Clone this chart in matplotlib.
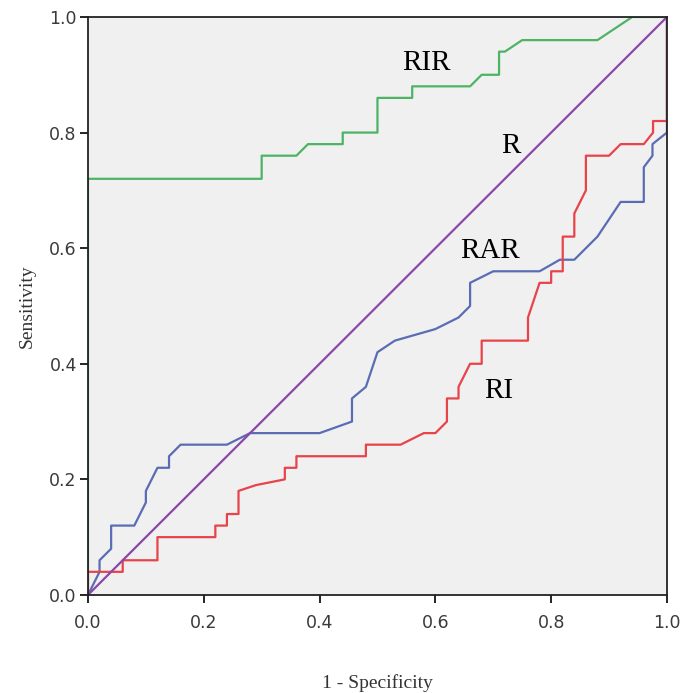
import matplotlib.pyplot as plt

# ROC curve points (1 - specificity, sensitivity)
rir_x = [0.0, 0.0, 0.30, 0.30, 0.36, 0.38, 0.44, 0.44, 0.50, 0.50, 0.56, 0.56,
         0.66, 0.68, 0.71, 0.71, 0.72, 0.75, 0.88, 0.91, 0.94, 1.0]
rir_y = [0.0, 0.72, 0.72, 0.76, 0.76, 0.78, 0.78, 0.80, 0.80, 0.86, 0.86, 0.88,
         0.88, 0.90, 0.90, 0.94, 0.94, 0.96, 0.96, 0.98, 1.0, 1.0]

rar_x = [0.0, 0.02, 0.02, 0.04, 0.04, 0.08, 0.10, 0.10, 0.11, 0.12, 0.14, 0.14,
         0.16, 0.24, 0.28, 0.40, 0.456, 0.456, 0.48, 0.50, 0.53, 0.60, 0.64,
         0.66, 0.66, 0.70, 0.78, 0.815, 0.84, 0.88, 0.92, 0.96, 0.96, 0.975,
         0.975, 1.0, 1.0]
rar_y = [0.0, 0.04, 0.06, 0.08, 0.12, 0.12, 0.16, 0.18, 0.20, 0.22, 0.22, 0.24,
         0.26, 0.26, 0.28, 0.28, 0.30, 0.34, 0.36, 0.42, 0.44, 0.46, 0.48,
         0.50, 0.54, 0.56, 0.56, 0.58, 0.58, 0.62, 0.68, 0.68, 0.74, 0.76,
         0.78, 0.80, 1.0]

ri_x = [0.0, 0.0, 0.06, 0.06, 0.12, 0.12, 0.22, 0.22, 0.24, 0.24, 0.26, 0.26,
        0.29, 0.34, 0.34, 0.36, 0.36, 0.48, 0.48, 0.54, 0.58, 0.60, 0.62,
        0.62, 0.64, 0.64, 0.66, 0.68, 0.68, 0.76, 0.76, 0.78, 0.80, 0.80,
        0.82, 0.82, 0.84, 0.84, 0.86, 0.86, 0.90, 0.92, 0.96, 0.976, 0.976,
        1.0, 1.0]
ri_y = [0.0, 0.04, 0.04, 0.06, 0.06, 0.10, 0.10, 0.12, 0.12, 0.14, 0.14, 0.18,
        0.19, 0.20, 0.22, 0.22, 0.24, 0.24, 0.26, 0.26, 0.28, 0.28, 0.30,
        0.34, 0.34, 0.36, 0.40, 0.40, 0.44, 0.44, 0.48, 0.54, 0.54, 0.56,
        0.56, 0.62, 0.62, 0.66, 0.70, 0.76, 0.76, 0.78, 0.78, 0.80, 0.82,
        0.82, 1.0]

ref_x = [0.0, 1.0]
ref_y = [0.0, 1.0]

labels = ["RIR", "R", "RAR", "RI"]
label_pos = [(0.585, 0.92), (0.73, 0.776), (0.695, 0.595), (0.71, 0.352)]

fig = plt.figure(figsize=(6.83, 6.93), dpi=100)
ax = fig.add_axes([0.1288, 0.1415, 0.8477, 0.834])
ax.set_facecolor("#f0f0f0")

ax.plot(rir_x, rir_y, color="#4cb464", lw=1.6)
ax.plot(rar_x, rar_y, color="#5a6db4", lw=1.6)
ax.plot(ri_x, ri_y, color="#e8434a", lw=1.6)
ax.plot(ref_x, ref_y, color="#8a48a8", lw=1.6)

for name, (tx, ty) in zip(labels, label_pos):
    ax.text(tx, ty, name, family="Liberation Serif", fontsize=21,
            ha="center", va="center", color="black")

ax.set_xlim(0, 1)
ax.set_ylim(0, 1)
ticks = [0.0, 0.2, 0.4, 0.6, 0.8, 1.0]
ax.set_xticks(ticks)
ax.set_yticks(ticks)
ax.set_xticklabels([f"{t:.1f}" for t in ticks])
ax.set_yticklabels([f"{t:.1f}" for t in ticks])
ax.tick_params(direction="out", length=6, width=1.2, colors="black",
               labelsize=12.5, labelcolor="#3a3a3a")
ax.tick_params(axis="x", pad=8)
ax.tick_params(axis="y", pad=2)
for lbl in ax.get_xticklabels() + ax.get_yticklabels():
    lbl.set_family("DejaVu Sans")
for s in ax.spines.values():
    s.set_linewidth(1.3)
    s.set_color("#222222")

ax.set_xlabel("1 - Specificity", family="Liberation Serif", fontsize=14,
              color="#333333", labelpad=30)
ax.set_ylabel("Sensitivity", family="Liberation Serif", fontsize=14,
              color="#333333", labelpad=10)

fig.savefig("out.png", dpi=100)
